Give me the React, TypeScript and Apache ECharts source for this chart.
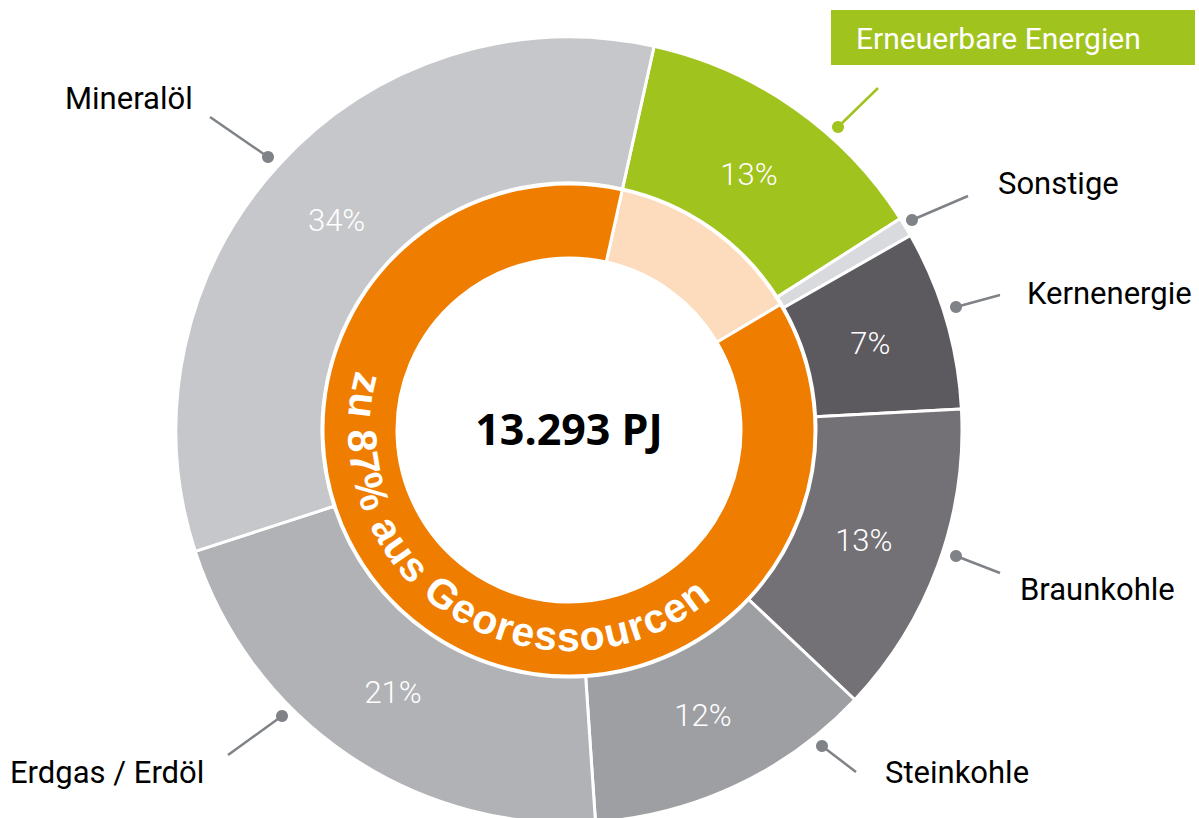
import React, { useEffect, useRef } from "react";
import * as echarts from "echarts";

// ---- data ----
const categories = [
  "Erneuerbare Energien",
  "Sonstige",
  "Kernenergie",
  "Braunkohle",
  "Steinkohle",
  "Erdgas / Erdöl",
  "Mineralöl",
];
const shares = [12.5, 0.8, 7.4, 12.9, 11.9, 21.1, 33.5];
const shareLabels = ["13%", "", "7%", "13%", "12%", "21%", "34%"];
const innerCategories = ["Erneuerbare", "Georessourcen"];
const innerShares = [13, 87];
const totalLabel = "13.293 PJ";
const ringText = "zu 87% aus Georessourcen";

// ---- styles / layout ----
const colors = ["#a1c31d", "#d9dadd", "#5c5a5f", "#737176", "#9e9fa3", "#b1b2b5", "#c6c7ca"];
const innerColors = ["#fcdcbc", "#ef7d00"];
const CX = 569;
const CY = 430;
const leaderGrey = "#7f8387";
const labelFont = "Roboto, 'Noto Sans', sans-serif";

// annotation layout: index into categories, text pos, line start, dot pos
const annotations = [
  { idx: 6, tx: 65, ty: 98, lx: 210, ly: 117, px: 268, py: 157 },
  { idx: 1, tx: 998, ty: 183, lx: 968, ly: 196, px: 912, py: 220 },
  { idx: 2, tx: 1027, ty: 293, lx: 1000, ly: 295, px: 956, py: 307 },
  { idx: 3, tx: 1020, ty: 589, lx: 1000, ly: 573, px: 956, py: 556 },
  { idx: 4, tx: 885, ty: 772, lx: 856, ly: 772, px: 822, py: 746 },
  { idx: 5, tx: 10, ty: 772, lx: 228, ly: 755, px: 282, py: 716 },
];

function textEl(x: number, y: number, text: string, font: string, fill: string, align: string, extra: any = {}) {
  return {
    type: "text",
    x,
    y,
    z: 100,
    silent: true,
    ...extra,
    style: {
      text,
      font,
      fill,
      align,
      textAlign: align,
      verticalAlign: "middle",
      textVerticalAlign: "middle",
    },
  };
}

export default function App() {
  const ref = useRef<HTMLDivElement>(null);

  useEffect(() => {
    const chart = echarts.init(ref.current!, null, { renderer: "svg" });

    // curved ring text
    const ringFont = 'bold 41px "Liberation Sans", Arial, sans-serif';
    const canvas = document.createElement("canvas");
    const ctx = canvas.getContext("2d")!;
    ctx.font = ringFont;
    const chars = Array.from(ringText);
    const widths = chars.map((c) => ctx.measureText(c).width);
    const centers: number[] = [];
    let acc = 0;
    widths.forEach((w) => {
      centers.push(acc + w / 2);
      acc += w;
    });
    const first = centers[0];
    const last = centers[centers.length - 1];
    const a1 = 193;
    const a2 = 53;
    const ringR = 207;
    const curved = chars.map((c, i) => {
      const t = (centers[i] - first) / (last - first);
      const deg = a1 - t * (a1 - a2);
      const rad = (deg * Math.PI) / 180;
      return textEl(
        CX + ringR * Math.cos(rad),
        CY + ringR * Math.sin(rad),
        c,
        ringFont,
        "#ffffff",
        "center",
        { rotation: ((90 - deg) * Math.PI) / 180 }
      );
    });

    const annotationEls: any[] = [];
    annotations.forEach((a) => {
      annotationEls.push({
        type: "line",
        z: 90,
        silent: true,
        shape: { x1: a.lx, y1: a.ly, x2: a.px, y2: a.py },
        style: { stroke: leaderGrey, lineWidth: 2.5 },
      });
      annotationEls.push({
        type: "circle",
        z: 91,
        silent: true,
        shape: { cx: a.px, cy: a.py, r: 6 },
        style: { fill: leaderGrey },
      });
      annotationEls.push(textEl(a.tx, a.ty, categories[a.idx], `31px ${labelFont}`, "#000000", "left"));
    });

    // renewable callout
    annotationEls.push({
      type: "rect",
      z: 90,
      silent: true,
      shape: { x: 831, y: 10, width: 364, height: 55 },
      style: { fill: colors[0] },
    });
    annotationEls.push(textEl(856, 38, categories[0], `30px ${labelFont}`, "#ffffff", "left"));
    annotationEls.push({
      type: "line",
      z: 90,
      silent: true,
      shape: { x1: 878, y1: 88, x2: 838, y2: 127 },
      style: { stroke: colors[0], lineWidth: 2.5 },
    });
    annotationEls.push({
      type: "circle",
      z: 91,
      silent: true,
      shape: { cx: 838, cy: 127, r: 6 },
      style: { fill: colors[0] },
    });

    annotationEls.push(
      textEl(CX, CY - 2, totalLabel, "bold 43px 'Open Sans', 'Noto Sans', sans-serif", "#000000", "center")
    );

    chart.setOption({
      animation: false,
      backgroundColor: "#ffffff",
      series: [
        {
          type: "pie",
          radius: [247, 393],
          center: [CX, CY],
          startAngle: 77.5,
          clockwise: true,
          silent: true,
          avoidLabelOverlap: false,
          emphasis: { disabled: true },
          itemStyle: { borderColor: "#ffffff", borderWidth: 3 },
          label: {
            show: true,
            position: "inside",
            formatter: (p: any) => shareLabels[p.dataIndex],
            color: "#ffffff",
            fontFamily: labelFont,
            fontSize: 31,
            fontWeight: 300,
          },
          labelLine: { show: false },
          labelLayout: (params: any) => {
            const r = params.labelRect;
            const lx = r.x + r.width / 2;
            const ly = r.y + r.height / 2;
            const dx = lx - CX;
            const dy = ly - CY;
            const d = Math.hypot(dx, dy) || 1;
            const k = (d - 9) / d;
            return {
              x: CX + dx * k,
              y: CY + dy * k + 2,
              align: "center",
              verticalAlign: "middle",
            };
          },
          data: categories.map((n, i) => ({
            name: n,
            value: shares[i],
            itemStyle: { color: colors[i] },
            label: { show: shareLabels[i] !== "" },
          })),
        },
        {
          type: "pie",
          radius: [172, 246],
          center: [CX, CY],
          startAngle: 77.5,
          clockwise: true,
          silent: true,
          emphasis: { disabled: true },
          itemStyle: { borderColor: "#ffffff", borderWidth: 3 },
          label: { show: false },
          labelLine: { show: false },
          data: innerCategories.map((n, i) => ({
            name: n,
            value: innerShares[i],
            itemStyle: { color: innerColors[i] },
          })),
        },
      ],
      graphic: { elements: [...annotationEls, ...curved] },
    });

    return () => chart.dispose();
  }, []);

  return (
    <div
      ref={ref}
      style={{ position: "absolute", left: 0, top: 0, width: 1199, height: 818 }}
    />
  );
}
